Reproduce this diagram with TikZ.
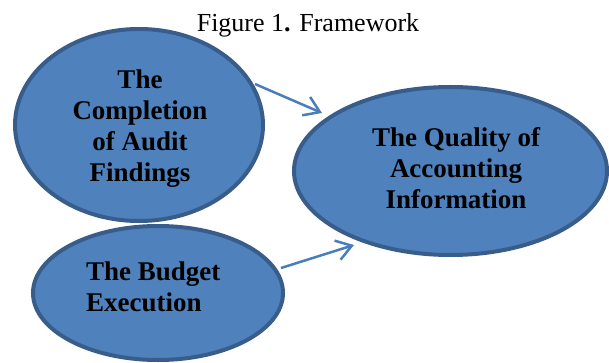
\documentclass[tikz,border=0pt]{standalone}
\usepackage{fontspec}
\setmainfont{Liberation Serif}
\usetikzlibrary{shapes.geometric,arrows.meta}
\definecolor{bfill}{HTML}{4F81BD}
\definecolor{bdraw}{HTML}{385D8A}
\definecolor{barrow}{HTML}{4A7EBB}
\tikzset{
  bubble/.style={ellipse, draw=bdraw, fill=bfill, line width=4pt, inner sep=0pt},
  lbl/.style={inner sep=0pt, font=\fontsize{27}{31}\selectfont\bfseries},
  link/.style={draw=barrow, line width=2.5pt, -{Straight Barb[length=15pt,width=20pt,line width=2.5pt]}}
}
\begin{document}
\begin{tikzpicture}[x=1pt,y=-1pt]
\useasboundingbox (0,0) rectangle (609,363);
\node[bubble, minimum width=248pt, minimum height=192pt] (n1) at (139,125) {};
\node[bubble, minimum width=250pt, minimum height=134pt] (n2) at (158,293) {};
\node[bubble, minimum width=313pt, minimum height=168pt] (n3) at (450.5,171) {};
\node[lbl, align=center] (t1) at (140,129) {The\\Completion\\of Audit\\Findings};
\node[lbl, align=left, anchor=west] (t2) at (86,287) {The Budget\\Execution};
\node[lbl, align=center] (t3) at (456,168) {The Quality of\\Accounting\\Information};
\node[inner sep=0pt, font=\fontsize{26}{30}\selectfont] (title) at (308,25) {Figure 1\textbf{.} Framework};
\coordinate (a1s) at (255,84);
\coordinate (a1e) at (322,113);
\coordinate (a2s) at (281,268);
\coordinate (a2e) at (354,245);
\draw[link] (a1s) -- (a1e);
\draw[link] (a2s) -- (a2e);
\end{tikzpicture}
\end{document}
